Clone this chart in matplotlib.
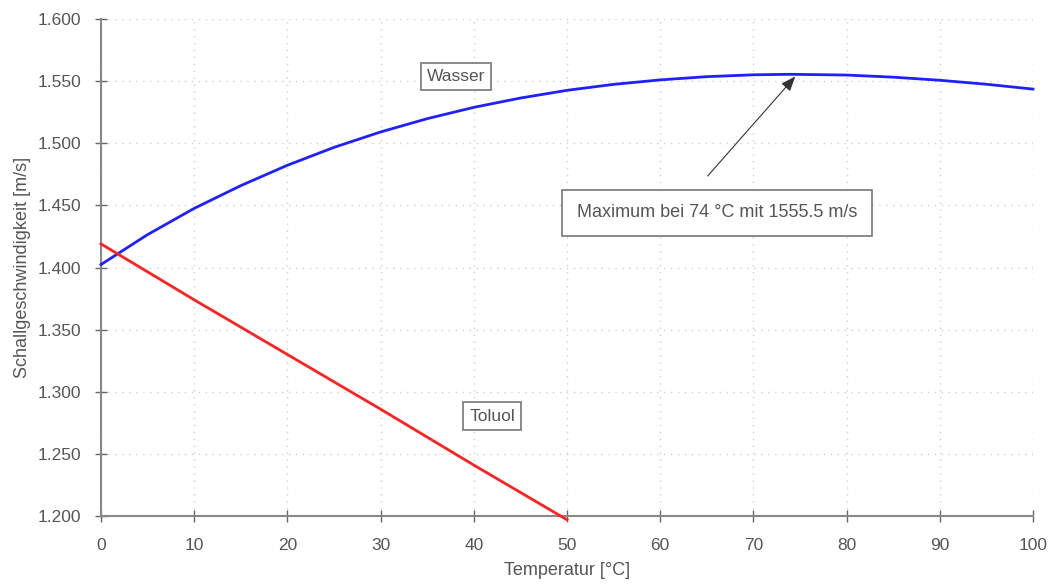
import matplotlib
matplotlib.use('Agg')
import matplotlib.pyplot as plt
from matplotlib.ticker import FuncFormatter, MultipleLocator

plt.rcParams['font.family'] = ['Liberation Sans', 'DejaVu Sans']

# Schallgeschwindigkeit in m/s
temp_wasser = [0, 5, 10, 15, 20, 25, 30, 35, 40, 45, 50, 55, 60, 65, 70, 74, 80, 85, 90, 95, 100]
v_wasser = [1402.4, 1426.5, 1447.6, 1465.9, 1482.3, 1496.7, 1509.1, 1519.8, 1528.9, 1536.4,
            1542.6, 1547.4, 1551.0, 1553.6, 1555.1, 1555.5, 1554.9, 1553.2, 1550.7, 1547.5, 1543.6]

temp_toluol = [0, 10, 20, 30, 40, 50]
v_toluol = [1419, 1374, 1330, 1286, 1241, 1197]

grau = '#555555'

fig = plt.figure(figsize=(10.5, 5.85), dpi=100)
ax = fig.add_axes([0.0962, 0.1179, 0.8876, 0.8496])

ax.plot(temp_wasser, v_wasser, color='#2020ff', lw=2, clip_on=False, zorder=3)
ax.plot(temp_toluol, v_toluol, color='#ff2020', lw=2, clip_on=False, zorder=3)

ax.set_xlim(0, 100)
ax.set_ylim(1200, 1600)
ax.xaxis.set_major_locator(MultipleLocator(10))
ax.yaxis.set_major_locator(MultipleLocator(50))
ax.yaxis.set_major_formatter(FuncFormatter(lambda v, p: f'{v:,.0f}'.replace(',', '.')))

ax.grid(True, color='#d0d0d0', linestyle=(0, (1, 4)), lw=1)
for s in ['top', 'right']:
    ax.spines[s].set_visible(False)
for s in ['left', 'bottom']:
    ax.spines[s].set_color('#888888')
    ax.spines[s].set_linewidth(1.5)
ax.tick_params(direction='inout', length=8, width=1, color='#666666',
               labelcolor=grau, labelsize=12.5)
ax.tick_params(axis='y', pad=10)
ax.tick_params(axis='x', pad=12)

ax.set_xlabel('Temperatur [°C]', color=grau, fontsize=13, labelpad=6)
ax.set_ylabel('Schallgeschwindigkeit [m/s]', color=grau, fontsize=13, labelpad=5)

box = dict(boxstyle='square,pad=0.35', fc='white', ec='#777777', lw=1.2)
ax.text(38.1, 1554, 'Wasser', ha='center', va='center', fontsize=12.5, color=grau, bbox=box)
ax.text(42, 1280.5, 'Toluol', ha='center', va='center', fontsize=12.5, color=grau, bbox=box)

ax.annotate('', xy=(74.7, 1555.5), xytext=(64.9, 1472),
            arrowprops=dict(arrowstyle='-|>,head_length=0.9,head_width=0.35',
                            color='#333333', lw=0.8), zorder=4)
box2 = dict(boxstyle='square,pad=0.8', fc='white', ec='#777777', lw=1.2)
ax.text(66.1, 1443.9, 'Maximum bei 74 °C mit 1555.5 m/s', ha='center', va='center',
        fontsize=13, color=grau, bbox=box2)

fig.savefig('out.png', dpi=100)
